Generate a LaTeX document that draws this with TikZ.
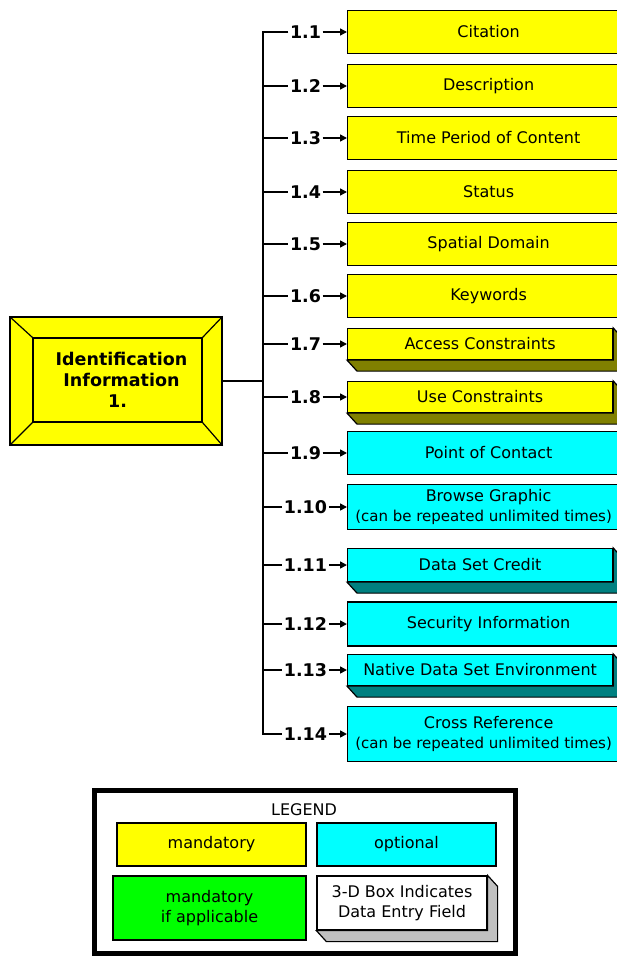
\documentclass[tikz,border=0pt]{standalone}
\usepackage{fontspec}
\setmainfont{DejaVu Sans}
\usetikzlibrary{arrows.meta,calc}

\definecolor{mandyellow}{HTML}{FFFF00}
\definecolor{optcyan}{HTML}{00FFFF}
\definecolor{condgreen}{HTML}{00FF00}
\definecolor{yellowside}{HTML}{808000}
\definecolor{cyanside}{HTML}{008080}
\definecolor{whiteside}{HTML}{C0C0C0}

% extruded side of a 3-D entry box: #1 node name, #2 side colour
\newcommand\boxshadow[2]{%
  \filldraw[fill=#2, line width=1.2pt, line join=miter]
    (#1.south west) -- ++(10,11)
    -- ($(#1.south east)+(10,11)$)
    -- ($(#1.north east)+(10,11)$)
    -- (#1.north east) -- (#1.south east) -- cycle;}

% smaller size for the long repeat note
\newcommand\repeatnote{{\fontsize{15}{20.5}\selectfont(can be repeated unlimited times)}}

\tikzset{
  entry/.style={draw=black, line width=1.2pt, inner sep=0pt, align=center,
    font=\fontsize{16}{20.5}\selectfont},
  flat/.style={entry, anchor=west, minimum width=282pt, minimum height=43pt},
  raised/.style={entry, anchor=west, minimum width=265pt, minimum height=31pt},
  numlabel/.style={font=\bfseries\fontsize{17.5}{20}\selectfont, inner sep=1.5pt},
  branch/.style={line width=1.5pt},
  feed/.style={line width=1.5pt, -{Triangle[length=7pt,width=7pt]}},
}

\begin{document}
\begin{tikzpicture}[x=1pt,y=-1pt]
\useasboundingbox (0,0) rectangle (617,959);
\fill[white] (0,0) rectangle (617,959);
\clip (0,0) rectangle (617,959);

% ---- root element ----
\node[draw, line width=1.2pt, fill=mandyellow, minimum width=212pt,
      minimum height=128pt, inner sep=0pt] (main) at (116,381) {};
\node[draw, line width=1.2pt, minimum width=169pt, minimum height=84pt,
      inner sep=0pt, align=center, font=\bfseries\fontsize{17.5}{21}\selectfont]
      (maininner) at (117.5,380) {\hspace*{8pt}Identification\\\hspace*{8pt}Information\\1.};
\draw[line width=1.2pt] (main.north west) -- (maininner.north west)
      (main.north east) -- (maininner.north east)
      (main.south west) -- (maininner.south west)
      (main.south east) -- (maininner.south east);

% ---- entry boxes ----
\node[flat, fill=mandyellow] (b1)  at (347,32)  {Citation};
\node[flat, fill=mandyellow] (b2)  at (347,86)  {Description};
\node[flat, fill=mandyellow] (b3)  at (347,138) {Time Period of Content};
\node[flat, fill=mandyellow] (b4)  at (347,192) {Status};
\node[flat, fill=mandyellow] (b5)  at (347,244) {Spatial Domain};
\node[flat, fill=mandyellow] (b6)  at (347,296) {Keywords};
\node[raised, fill=mandyellow] (b7) at (347,344) {Access Constraints};
\node[raised, fill=mandyellow] (b8) at (347,397) {Use Constraints};
\node[flat, fill=optcyan] (b9)  at (347,453)    {Point of Contact};
\node[flat, fill=optcyan, minimum height=45pt] (b10) at (347,507)
      {Browse Graphic\\\hspace*{-10pt}\repeatnote};
\node[raised, fill=optcyan, minimum height=33pt] (b11) at (347,565) {Data Set Credit};
\node[flat, fill=optcyan, minimum height=44pt] (b12) at (347,624) {Security Information};
\node[raised, fill=optcyan] (b13) at (347,670)    {Native Data Set Environment};
\node[flat, fill=optcyan, minimum height=55pt] (b14) at (347,734)
      {Cross Reference\\\hspace*{-10pt}\repeatnote};

\boxshadow{b7}{yellowside}
\boxshadow{b8}{yellowside}
\boxshadow{b11}{cyanside}
\boxshadow{b13}{cyanside}

% ---- numbering labels ----
\node[numlabel] (l1)  at (305.5,32)  {1.1};
\node[numlabel] (l2)  at (305.5,86)  {1.2};
\node[numlabel] (l3)  at (305.5,138) {1.3};
\node[numlabel] (l4)  at (305.5,192) {1.4};
\node[numlabel] (l5)  at (305.5,244) {1.5};
\node[numlabel] (l6)  at (305.5,296) {1.6};
\node[numlabel] (l7)  at (305.5,344) {1.7};
\node[numlabel] (l8)  at (305.5,397) {1.8};
\node[numlabel] (l9)  at (305.5,453) {1.9};
\node[numlabel] (l10) at (305.5,507) {1.10};
\node[numlabel] (l11) at (305.5,565) {1.11};
\node[numlabel] (l12) at (305.5,624) {1.12};
\node[numlabel] (l13) at (305.5,670) {1.13};
\node[numlabel] (l14) at (305.5,734) {1.14};

% ---- trunk and branches ----
\foreach \i/\y in {1/32,2/86,3/138,4/192,5/244,6/296,7/344,8/397,
                   9/453,10/507,11/565,12/624,13/670,14/734}
  \coordinate (t\i) at (263,\y);
\coordinate (tmain) at (263,381);

\draw[branch, line join=miter] (l1.west) -- (t1) -- (t14) -- (l14.west);
\foreach \i in {2,...,13}
  \draw[branch] (t\i) -- (l\i.west);
\draw[branch] (main.east) -- (tmain);

\foreach \i in {1,...,14}
  \draw[feed] (l\i.east) -- (b\i.west);

% ---- legend ----
\node[draw, line width=5pt, minimum width=421pt, minimum height=163pt,
      inner sep=0pt] (legend) at (305,872) {};
\node[font=\fontsize{16}{20}\selectfont] (legendtitle) at (304,810) {LEGEND};
\node[entry, fill=mandyellow, minimum width=189pt, minimum height=43pt]
      (lmand) at (211.5,844.5) {mandatory};
\node[entry, fill=optcyan, minimum width=179pt, minimum height=43pt]
      (lopt) at (406.5,844.5) {optional};
\node[entry, fill=condgreen, minimum width=193pt, minimum height=64pt]
      (lcond) at (209.5,908) {mandatory\\if applicable};
\node[entry, fill=white, minimum width=170pt, minimum height=54pt]
      (lraised) at (402,903) {3-D Box Indicates\\Data Entry Field};
\boxshadow{lraised}{whiteside}
\end{tikzpicture}
\end{document}
